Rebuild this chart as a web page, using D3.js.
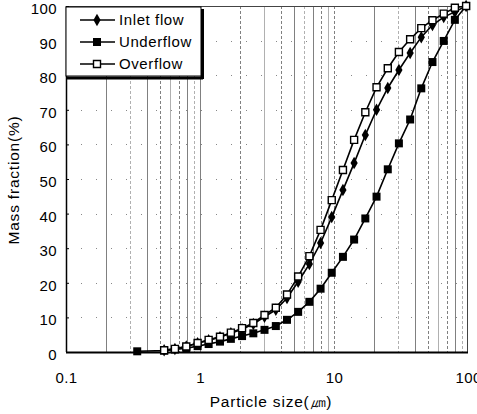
<!DOCTYPE html>
<html><head><meta charset="utf-8">
<script src="https://cdn.jsdelivr.net/npm/d3@7"></script>
<style>body{margin:0;background:#fff}svg{display:block}</style>
</head><body>
<svg id="c" width="477" height="414"></svg>
<script>
// Particle sizes (µm)
const sizesU = [0.34,0.54,0.65,0.79,0.96,1.16,1.41,1.70,2.06,2.50,3.03,3.68,4.46,5.40,6.55,7.94,9.62,11.66,14.13,17.13,20.77,25.2,30.5,37.0,44.8,54.3,65.9,79.8,96.8];
const underflow = [0.2,0.4,0.7,1.1,1.7,2.3,3.0,3.8,4.6,5.4,6.4,7.5,9.3,11.6,14.5,18.3,22.9,27.5,32.5,38.6,44.9,52.8,60.3,67.2,76.2,83.8,89.9,96.0,100];
const sizesIO = [0.54,0.65,0.79,0.96,1.16,1.41,1.70,2.06,2.50,3.03,3.68,4.46,5.40,6.55,7.94,9.62,11.66,14.13,17.13,20.77,25.2,30.5,37.0,44.8,54.3,65.9,79.8,96.8];
const inlet = [0.5,0.9,1.6,2.5,3.4,4.3,5.4,6.6,8.1,10.2,12.2,15.6,20.3,25.4,31.5,39.0,46.8,54.6,62.7,70.0,76.3,81.5,86.4,91.0,94.5,96.8,98.3,100];
const overflow = [0.5,0.9,1.6,2.6,3.5,4.4,5.6,6.9,8.4,10.7,12.8,16.6,21.8,27.7,35.3,43.9,52.6,61.3,69.3,76.5,82.0,86.7,90.4,93.6,95.9,97.8,99.5,100];
const yTicks = [0,10,20,30,40,50,60,70,80,90,100];
const xTicks = [0.1,1,10,100];
const xTickLabels = ["0.1","1","10","100"];
const seriesNames = ["Inlet flow","Underflow","Overflow"];

const svg = d3.select("#c");
const L=66,R=468,T=6,B=352;
const x = d3.scaleLog().domain([0.1,100]).range([L,R]);
const y = d3.scaleLinear().domain([0,100]).range([B,T]);
const font = "'Liberation Sans', Arial, sans-serif";

// vertical grid at all log ticks
const gridX = [];
[0.1,1,10].forEach(d=>{for(let k=1;k<10;k++) gridX.push(d*k);});
svg.append("g").selectAll("line").data(gridX.filter(v=>v>0.1&&v<100)).join("line")
  .attr("x1",d=>Math.round(x(d))+0.5).attr("x2",d=>Math.round(x(d))+0.5)
  .attr("y1",T).attr("y2",B)
  .attr("stroke",(d,i)=>i%3===1?"#b0b0b0":"#808080").attr("stroke-width",1)
  .attr("stroke-dasharray",(d,i)=>i%2===0?null:"3,2");
// horizontal dotted grid
svg.append("g").selectAll("line").data(yTicks.slice(1,-1)).join("line")
  .attr("x1",L).attr("x2",R).attr("y1",d=>Math.round(y(d))+0.5).attr("y2",d=>Math.round(y(d))+0.5)
  .attr("stroke","#888").attr("stroke-width",1).attr("stroke-dasharray","1,14");

// frame
svg.append("rect").attr("x",L+0.5).attr("y",T+0.5).attr("width",R-L-1).attr("height",B-T)
  .attr("fill","none").attr("stroke","#444").attr("stroke-width",1);
svg.append("line").attr("x1",L).attr("x2",R).attr("y1",B+0.5).attr("y2",B+0.5).attr("stroke","#000").attr("stroke-width",2);
svg.append("line").attr("x1",L+0.5).attr("x2",L+0.5).attr("y1",T).attr("y2",B).attr("stroke","#000").attr("stroke-width",1.5);

// axes
const yAxis = d3.axisLeft(y).tickValues(yTicks).tickSize(3).tickFormat(d3.format("d"));
const gy = svg.append("g").attr("transform",`translate(${L},0)`).call(yAxis);
gy.select(".domain").remove();
gy.selectAll("text").attr("font-family",font).attr("font-size",15).attr("letter-spacing",0.4).attr("fill","#000").attr("x",-9).attr("dy","0.5em");
gy.selectAll(".tick line").attr("stroke","#000").attr("x2",3);

const xAxis = d3.axisBottom(x).tickValues(xTicks).tickSize(0).tickFormat((d,i)=>xTickLabels[i]);
const gx = svg.append("g").attr("transform",`translate(0,${B})`).call(xAxis);
gx.select(".domain").remove();
gx.selectAll("text").attr("font-family",font).attr("font-size",15).attr("letter-spacing",0.4).attr("fill","#000").attr("y",20);

// titles
svg.append("text").attr("x",271).attr("y",407).attr("text-anchor","middle")
  .attr("font-family",font).attr("font-size",15.5).attr("letter-spacing",0.8).text("Particle size(㎛)");
svg.append("text").attr("transform","translate(19,180) rotate(-90)").attr("text-anchor","middle")
  .attr("font-family",font).attr("font-size",15.5).attr("letter-spacing",0.8).text("Mass fraction(%)");

// series
const line = d3.line().x(d=>x(d[0])).y(d=>y(d[1]));
const dIn = sizesIO.map((s,i)=>[s,inlet[i]]);
const dUn = sizesU.map((s,i)=>[s,underflow[i]]);
const dOv = sizesIO.map((s,i)=>[s,overflow[i]]);
const gS = svg.append("g");
[dUn,dIn,dOv].forEach(d=>gS.append("path").datum(d).attr("d",line).attr("fill","none").attr("stroke","#000").attr("stroke-width",1.6));

const sqSym = d3.symbol().type(d3.symbolSquare).size(64);
const diaSym = d3.symbol().type(d3.symbolDiamond).size(45);
gS.append("g").selectAll("path").data(dUn).join("path").attr("d",sqSym)
  .attr("transform",d=>`translate(${x(d[0])},${y(d[1])})`).attr("fill","#000");
gS.append("g").selectAll("path").data(dIn).join("path").attr("d",diaSym)
  .attr("transform",d=>`translate(${x(d[0])},${y(d[1])})`).attr("fill","#000");
gS.append("g").selectAll("path").data(dOv).join("path").attr("d",d3.symbol().type(d3.symbolSquare).size(49))
  .attr("transform",d=>`translate(${x(d[0])},${y(d[1])})`).attr("fill","#fff").attr("stroke","#000").attr("stroke-width",1.4);

// legend
const lg = svg.append("g");
lg.append("rect").attr("x",L).attr("y",T+1).attr("width",135).attr("height",69).attr("fill","#fff").attr("stroke","#000").attr("stroke-width",1);
lg.append("line").attr("x1",L+1).attr("x2",L+137).attr("y1",T+72).attr("y2",T+72).attr("stroke","#000").attr("stroke-width",3);
lg.append("line").attr("x1",L+136.5).attr("x2",L+136.5).attr("y1",T+3).attr("y2",T+73).attr("stroke","#000").attr("stroke-width",3);
const syms = [diaSym, sqSym, d3.symbol().type(d3.symbolSquare).size(49)];
const fills = ["#000","#000","#fff"];
seriesNames.forEach((n,i)=>{
  const yy = T+14+i*22;
  lg.append("line").attr("x1",80).attr("x2",115).attr("y1",yy).attr("y2",yy).attr("stroke","#000").attr("stroke-width",1.6);
  lg.append("path").attr("d",syms[i]).attr("transform",`translate(97,${yy})`).attr("fill",fills[i]).attr("stroke",i===2?"#000":"none").attr("stroke-width",1.4);
  lg.append("text").attr("x",119).attr("y",yy).attr("dy","0.35em").attr("font-family",font).attr("font-size",15).attr("letter-spacing",0.6).text(n);
});
</script>
</body></html>
